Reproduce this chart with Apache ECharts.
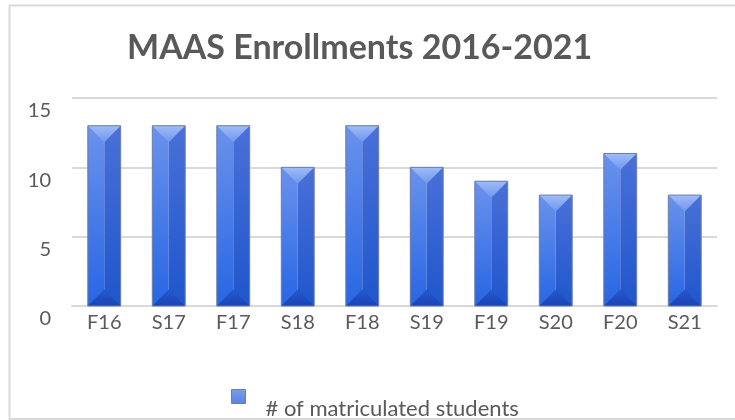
<!DOCTYPE html>
<html>
<head>
<meta charset="utf-8">
<script src="https://cdn.jsdelivr.net/npm/echarts@6/dist/echarts.min.js"></script>
<style>
  html, body { margin: 0; padding: 0; background: #fff; }
  #chart { width: 735px; height: 420px; }
</style>
</head>
<body>
<div id="chart"></div>
<script>
  var terms = ['F16', 'S17', 'F17', 'S18', 'F18', 'S19', 'F19', 'S20', 'F20', 'S21']
  var students = [13, 13, 13, 10, 13, 10, 9, 8, 11, 8]
  var yTicks = [0, 5, 10, 15]

  var font = 'Lato, "Open Sans", sans-serif'
  var grey = '#595959'

  function grad (a, b) {
    return new echarts.graphic.LinearGradient(0, 0, 0, 1, [
      { offset: 0, color: a },
      { offset: 1, color: b },
    ])
  }

  // bevelled column, like the excel style
  function renderBar (params, api) {
    var v = api.value(1)
    var top = api.coord([api.value(0), v])
    var base = api.coord([api.value(0), 0])
    var w = api.size([1, 0])[0] * 0.51
    var x0 = top[0] - w / 2
    var x1 = top[0] + w / 2
    var xm = top[0]
    var y0 = top[1]
    var y1 = base[1]
    var b = Math.min(w / 2, (y1 - y0) / 2)
    return {
      type: 'group',
      children: [
        { type: 'rect', shape: { x: x0, y: y0, width: w / 2, height: y1 - y0 },
          style: { fill: grad('#6a92ec', '#2866e4') } },
        { type: 'rect', shape: { x: xm, y: y0, width: w / 2, height: y1 - y0 },
          style: { fill: grad('#4a70d8', '#1f56cc') } },
        { type: 'polygon', shape: { points: [[x0, y0], [x1, y0], [xm, y0 + b]] },
          style: { fill: grad('#a0bcf7', '#7096ee') } },
        { type: 'polygon', shape: { points: [[x0, y1], [x1, y1], [xm, y1 - b]] },
          style: { fill: grad('#2558cf', '#1a44b2') } },
        { type: 'rect', shape: { x: x0, y: y0, width: w, height: y1 - y0 },
          style: { fill: null, stroke: '#6b7ea6', lineWidth: 1 } },
      ],
    }
  }

  var chart = echarts.init(document.getElementById('chart'))
  var option = {
    animation: false,
    title: {
      text: 'MAAS Enrollments 2016-2021',
      left: 127,
      top: 31,
      padding: 0,
      textStyle: { fontFamily: font, fontWeight: 'bold', fontSize: 34, color: grey },
    },
    graphic: [
      { type: 'rect', shape: { x: 9.5, y: 5.5, width: 740, height: 413.5 },
        style: { fill: null, stroke: '#d9d9d9', lineWidth: 2 }, silent: true },
    ],
    grid: { left: 72, right: 18, top: 98, bottom: 114 },
    legend: {
      left: 231,
      top: 389,
      padding: 0,
      // square sits in the top of a taller box so the text hangs lower
      icon: 'path://M0,0h14v14h-14z M0,38',
      itemWidth: 14,
      itemHeight: 38,
      itemGap: 0,
      itemStyle: { color: grad('#7a9ff0', '#2150c6'), borderColor: '#6b7ea6', borderWidth: 1 },
      textStyle: { fontFamily: font, fontSize: 22, color: grey, padding: [0, 0, 0, 15] },
      data: ['# of matriculated students'],
    },
    xAxis: {
      type: 'category',
      data: terms,
      axisLine: { show: true, lineStyle: { color: '#d9d9d9', width: 2 } },
      axisTick: { show: false },
      axisLabel: { fontFamily: font, fontSize: 20, color: grey, margin: 7 },
    },
    yAxis: {
      type: 'value',
      min: yTicks[0],
      max: yTicks[yTicks.length - 1],
      interval: 5,
      axisLine: { show: false },
      axisTick: { show: false },
      splitLine: { lineStyle: { color: '#d9d9d9', width: 2 } },
      axisLabel: {
        fontFamily: font, fontSize: 20, color: grey, margin: 21,
        verticalAlign: 'top', padding: [3, 0, 0, 0],
      },
    },
    series: [
      {
        name: '# of matriculated students',
        type: 'custom',
        renderItem: renderBar,
        itemStyle: { color: '#2a5fd8' },
        encode: { x: 0, y: 1 },
        data: students.map(function (v, i) { return [i, v] }),
      },
    ],
  }
  chart.setOption(option)
</script>
</body>
</html>
